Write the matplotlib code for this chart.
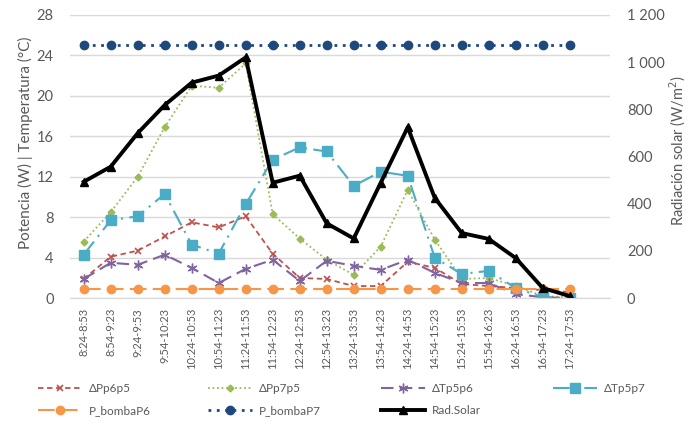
import matplotlib
matplotlib.use("Agg")
import matplotlib.pyplot as plt
import numpy as np

plt.rcParams['font.family'] = ['Lato', 'DejaVu Sans']

# categories (time intervals)
periodos = ["8:24-8:53", "8:54-9:23", "9:24-9:53", "9:54-10:23", "10:24-10:53",
            "10:54-11:23", "11:24-11:53", "11:54-12:23", "12:24-12:53", "12:54-13:23",
            "13:24-13:53", "13:54-14:23", "14:24-14:53", "14:54-15:23", "15:24-15:53",
            "15:54-16:23", "16:24-16:53", "16:54-17:23", "17:24-17:53"]

# left axis series (W / °C)
dPp6p5 = [1.9, 4.1, 4.7, 6.1, 7.5, 7.0, 8.1, 4.4, 2.0, 1.9, 1.2, 1.2, 3.6, 3.0, 1.4, 1.2, 1.0, 0.8, 0.6]
dPp7p5 = [5.6, 8.5, 12.0, 16.9, 21.0, 20.8, 23.2, 8.3, 5.9, 3.8, 2.3, 5.1, 10.7, 5.8, 1.9, 2.0, 1.2, 0.2, 0.1]
dTp5p6 = [1.9, 3.5, 3.3, 4.3, 3.0, 1.5, 2.9, 3.8, 1.7, 3.7, 3.2, 2.8, 3.8, 2.5, 1.5, 1.5, 0.4, 0.1, 0.0]
dTp5p7 = [4.3, 7.7, 8.1, 10.3, 5.3, 4.4, 9.3, 13.7, 14.9, 14.5, 11.1, 12.5, 12.1, 4.0, 2.4, 2.7, 1.0, 0.1, 0.0]
p_bomba6 = [0.9] * 19
p_bomba7 = [25.0] * 19

# right axis series (W/m2)
rad_solar = [493, 557, 699, 818, 913, 943, 1020, 489, 519, 317, 253, 489, 724, 425, 276, 251, 170, 43, 9]

gris = "#595959"
x = np.arange(len(periodos))

fig = plt.figure(figsize=(6.88, 4.26), dpi=100)
ax = fig.add_axes([0.102, 0.300, 0.785, 0.665])
ax2 = ax.twinx()

h1, = ax.plot(x, dPp6p5, color="#C0504D", ls=(0, (3, 2)), lw=1.3, marker="x", ms=5, mew=1.2, label="ΔPp6p5")
h2, = ax.plot(x, dPp7p5, color="#9BBB59", ls=(0, (1, 1.5)), lw=1.3, marker="D", ms=3.5, label="ΔPp7p5")
h3, = ax.plot(x, dTp5p6, color="#8064A2", ls=(0, (6, 3)), lw=1.5, marker=(6, 2, 0), ms=7, mew=1.0, label="ΔTp5p6")
h4, = ax.plot(x, dTp5p7, color="#4BACC6", ls=(0, (8, 3, 1, 3)), lw=1.5, marker="s", ms=6.5, label="ΔTp5p7")
h5, = ax.plot(x, p_bomba6, color="#F79646", ls=(0, (8, 3)), lw=1.5, marker="o", ms=6, label="P_bombaP6")
h6, = ax.plot(x, p_bomba7, color="#1F497D", ls=(0, (1, 2)), lw=2, marker="o", ms=6, label="P_bombaP7")
h7, = ax2.plot(x, rad_solar, color="black", lw=2.8, marker="^", ms=6, label="Rad.Solar")

ax.set_xlim(-0.5, 19.5)
ax.set_ylim(0, 28)
ax.set_yticks(np.arange(0, 29, 4))
ax2.set_ylim(0, 1200)
ax2.set_yticks(np.arange(0, 1201, 200))
ax2.set_yticklabels([f"{v:,}".replace(",", " ") for v in range(0, 1201, 200)])

ax.set_xticks(x)
ax.set_xticklabels(periodos, rotation=90, fontsize=8, color=gris)
ax.grid(axis="y", color="#d9d9d9", lw=1)
ax.set_axisbelow(True)

for a in (ax, ax2):
    for s in ("top", "left", "right"):
        a.spines[s].set_visible(False)
    a.spines["bottom"].set_color("#d9d9d9")
    a.tick_params(length=0, colors=gris, labelsize=10.5)
ax.tick_params(axis="x", labelsize=8, pad=7)
ax.tick_params(axis="y", pad=12)
ax2.tick_params(axis="y", pad=12)

ax.set_ylabel("Potencia (W) | Temperatura (°C)", fontsize=11, color=gris)
ax.yaxis.set_label_coords(-0.068, 0.55)
ax2.set_ylabel("Radiación solar (W/m$^2$)", fontsize=10.5, color=gris)
ax2.yaxis.set_label_coords(1.106, 0.52)

# legend: four columns placed at the reference positions
columnas = [[h1, h5], [h2, h6], [h3, h7], [h4]]
x_cols = [38, 208, 381, 553]
for hs, xc in zip(columnas, x_cols):
    leg = fig.legend(handles=hs, labels=[h.get_label() for h in hs], ncol=1,
                     loc="upper left", bbox_to_anchor=(xc / 688, 1 - 383 / 426),
                     frameon=False, fontsize=8.5, handlelength=3.7, labelcolor=gris,
                     handletextpad=0.6, labelspacing=0.95, borderpad=0, borderaxespad=0)

fig.savefig("out.png", dpi=100)
